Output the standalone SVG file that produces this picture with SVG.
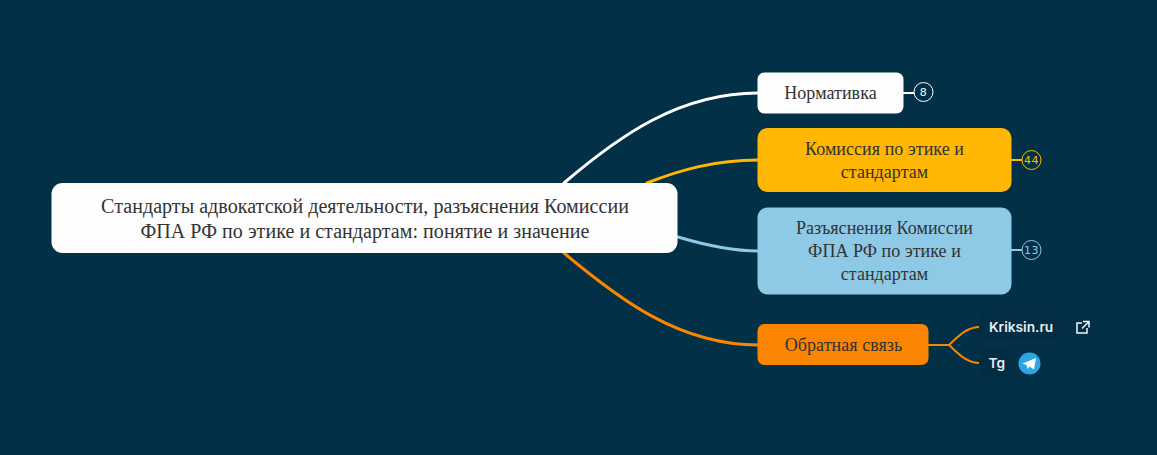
<svg xmlns="http://www.w3.org/2000/svg" width="1157" height="455" viewBox="0 0 1157 455">
<style>
.n{font-family:"Liberation Serif","Times New Roman",serif;fill:#333;text-anchor:middle}
.c{font-size:20px;letter-spacing:.05px}
.b{font-size:18px;letter-spacing:.05px}
.l{fill:none;stroke-width:3;stroke-linecap:round}
.k{fill:none;stroke-width:2}
.o{font-family:"DejaVu Sans","Noto Sans",sans-serif;font-size:11px;text-anchor:middle;letter-spacing:.5px}
.u{font-family:"Inter","Noto Sans",sans-serif;font-size:13.700px;font-weight:600;fill:#e8eef2}
</style>
<rect width="1157" height="455" fill="#023047"/>
<g id="connectors">
<path class="l" stroke="#ffffff" d="M564 183C620 135 680 93 758 93"/>
<path class="l" stroke="#ffb703" d="M647 183C680 170 715 160 758 160"/>
<path class="l" stroke="#8ecae6" d="M678 237C705 245 730 251 758 251"/>
<path class="l" stroke="#fb8500" d="M564 253C620 300 680 345 758 345"/>
<path class="k" stroke="#ffffff" d="M903 93H914"/>
<path class="k" stroke="#ffb703" d="M1011 160H1022"/>
<path class="k" stroke="#8ecae6" d="M1011 250H1022"/>
<path class="k" stroke="#fb8500" d="M928 345H949C958 337 966 327 980 327M949 345C958 353 966 363 980 363"/>
</g>
<g id="root"><rect x="51.500" y="183" width="626" height="70" rx="11" fill="#fdfdfd"/>
<text class="n c" x="365" y="213">Стандарты адвокатской деятельности, разъяснения Комиссии</text>
<text class="n c" x="365" y="238">ФПА РФ по этике и стандартам: понятие и значение</text></g>
<g id="node-norm"><rect x="757.500" y="72.500" width="146" height="41" rx="7" fill="#fdfdfd"/>
<text class="n b" x="830.500" y="98.500">Нормативка</text>
<circle cx="923.500" cy="92" r="9.500" fill="#023047" stroke="#fff" stroke-width="1"/>
<text class="o" x="923.500" y="96" fill="#fff">8</text></g>
<g id="node-comm"><rect x="757.500" y="128" width="254" height="64" rx="10" fill="#ffb703"/>
<text class="n b" x="884.500" y="154.500">Комиссия по этике и</text>
<text class="n b" x="884.500" y="178">стандартам</text>
<circle cx="1031.500" cy="160" r="9.500" fill="#023047" stroke="#ffb703" stroke-width="1"/>
<text class="o" x="1031.500" y="164" fill="#ffb703">44</text></g>
<g id="node-expl"><rect x="757.500" y="207.500" width="254" height="87" rx="10" fill="#8ecae6"/>
<text class="n b" x="884.500" y="234">Разъяснения Комиссии</text>
<text class="n b" x="884.500" y="257">ФПА РФ по этике и</text>
<text class="n b" x="884.500" y="280">стандартам</text>
<circle cx="1031.500" cy="250" r="9.500" fill="#023047" stroke="#8ecae6" stroke-width="1"/>
<text class="o" x="1031.500" y="254" fill="#8ecae6">13</text></g>
<g id="node-feedback"><rect x="757.500" y="324" width="171" height="41" rx="7" fill="#fb8500"/>
<text class="n b" x="843.500" y="350.500">Обратная связь</text></g>
<g id="node-kriksin"><rect x="979" y="313" width="83" height="28" rx="5" fill="#022d43"/>
<text class="u" x="989" y="332">Kriksin.ru</text>
<g fill="none" stroke="#f2f5f7" stroke-width="1.500"><path d="M1082 323H1077V333H1087V328"/><path d="M1083 321.500H1089V327.500M1089 321.500L1082 328.500"/></g></g>
<g id="node-tg"><rect x="979" y="349" width="36" height="28" rx="5" fill="#022d43"/>
<text class="u" x="988.500" y="368">Tg</text>
<circle cx="1029.500" cy="363.500" r="11" fill="#2ca5e0"/>
<path d="M1022.500 363.500L1036 358L1034 369.500L1029.500 366.500L1027.500 369L1026.500 365Z" fill="#fff"/></g>
</svg>
